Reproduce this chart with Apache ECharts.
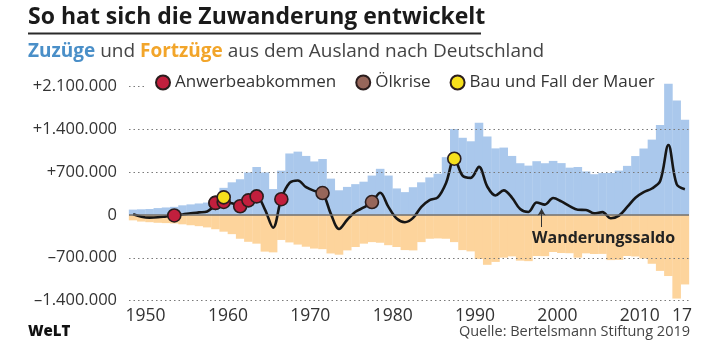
<!DOCTYPE html>
<html><head><meta charset="utf-8">
<script src="https://cdn.jsdelivr.net/npm/echarts@6/dist/echarts.min.js"></script>
<style>html,body{margin:0;padding:0;background:#fff}#c{width:720px;height:344px}</style>
</head><body><div id="c"></div>
<script>
const years = [1950,1951,1952,1953,1954,1955,1956,1957,1958,1959,1960,1961,1962,1963,1964,1965,1966,1967,1968,1969,
  1970,1971,1972,1973,1974,1975,1976,1977,1978,1979,1980,1981,1982,1983,1984,1985,1986,1987,1988,1989,
  1990,1991,1992,1993,1994,1995,1996,1997,1998,1999,2000,2001,2002,2003,2004,2005,2006,2007,2008,2009,
  2010,2011,2012,2013,2014,2015,2016,2017];
const zuzuege = [85000,90000,95000,110000,120000,130000,155000,170000,185000,200000,
  300000,440000,530000,580000,690000,780000,690000,420000,720000,1000000,
  1030000,960000,870000,910000,590000,400000,455000,500000,540000,640000,
  750000,640000,430000,370000,450000,530000,610000,670000,940000,1400000,
  1256000,1199000,1502000,1277000,1083000,1096000,960000,841000,802000,874000,
  841000,879000,843000,769000,780000,707000,662000,681000,682000,721000,
  798000,958000,1081000,1226000,1465000,2137000,1865000,1551000];
const fortzuege = [-90000,-110000,-120000,-130000,-135000,-140000,-155000,-170000,-185000,-205000,
  -235000,-275000,-315000,-390000,-440000,-470000,-600000,-612000,-410000,-450000,
  -485000,-520000,-550000,-560000,-630000,-650000,-580000,-525000,-470000,-445000,
  -455000,-495000,-525000,-575000,-580000,-445000,-390000,-385000,-390000,-445000,
  -575000,-596000,-720000,-815000,-768000,-698000,-677000,-747000,-755000,-672000,
  -674000,-606000,-623000,-626000,-698000,-628000,-639000,-637000,-738000,-734000,
  -671000,-679000,-712000,-798000,-914000,-998000,-1365000,-1135000];
const saldo = [10000,-30000,-45000,-40000,-25000,-10000,5000,25000,40000,55000,
  150000,200000,190000,150000,236000,300000,90000,-210000,265000,520000,
  560000,450000,390000,355000,20000,-230000,-80000,50000,120000,208000,
  360000,130000,-60000,-120000,-50000,130000,240000,285000,520000,920000,
  640000,603000,782000,462000,315000,398000,282000,94000,47000,202000,
  167000,273000,219000,143000,83000,79000,23000,44000,-56000,-13000,
  128000,279000,369000,429000,550000,1139000,500000,416000];
const yTicks = [-1400000,-700000,0,700000,1400000,2100000];
const yTickLabels = ['–1.400.000','–700.000','0','+700.000','+1.400.000','+2.100.000'];
const xTickYears = [1950,1960,1970,1980,1990,2000,2010,2017];
const xTickLabels = ['1950','1960','1970','1980','1990','2000','2010','17'];
const anwerbe = [[1955,-10000],[1960,195000],[1960,195000],[1961,210000],[1963,140000],[1964,236000],[1965,300000],[1968,255000]];
const oelkrise = [[1973,355000],[1979,208000]];
const mauer = [[1961,285000],[1989,915000]];
const arrowYear = 1999.6;
const arrowFrom = -199000, arrowTo = 101000;

const F = '"Open Sans", "DejaVu Sans", sans-serif';
const pair = arr => years.map((y, i) => [y, arr[i]]);
const chart = echarts.init(document.getElementById('c'));
const dotted = {type:[1.5,3], color:'#7a7a7a', width:1.2};
const yTop = yTicks[yTicks.length-1];
const gridLines = yTicks.filter(v => v !== 0 && v !== yTop).map(v => ({yAxis:v}));
gridLines.push([{coord:[years[0]-0.5, yTop]},{coord:[years[0]+1.5, yTop]}]);
gridLines.push({yAxis:0, lineStyle:{type:'solid', color:'#6e6e6e', width:1.5}});
const symStyle = c => ({color:c, borderColor:'#2b1d1d', borderWidth:1.6, opacity:1});
const labelFmt = v => { const i = xTickYears.indexOf(+v); const t = xTickLabels[i];
  return i === xTickLabels.length-1 ? '{l|'+t+'}' : '{s|'+t+'}'; };

chart.setOption({
  animation:false,
  textStyle:{fontFamily:F},
  grid:{left:129, right:31, top:86, bottom:43.3},
  xAxis:[
    {type:'category', data:years.map(String), boundaryGap:true,
     axisLine:{show:false}, axisTick:{show:false}, splitLine:{show:false},
     axisLabel:{interval:(i, v) => xTickYears.indexOf(+v) >= 0, margin:6, color:'#333', fontSize:17.5, fontFamily:F,
       formatter:labelFmt,
       rich:{s:{padding:[0,0,0,25], fontSize:17.5, color:'#333', fontFamily:F},
             l:{padding:[0,6,0,0], fontSize:17.5, color:'#333', fontFamily:F}}}},
    {type:'value', min:years[0]-0.5, max:years[years.length-1]+0.5, show:false}
  ],
  yAxis:{type:'value', min:yTicks[0], max:yTop, interval:700000,
    axisLine:{show:false}, axisTick:{show:false}, splitLine:{show:false},
    axisLabel:{margin:12, color:'#333', fontSize:16.5, fontFamily:F,
      formatter:v => yTickLabels[yTicks.indexOf(v)]}},
  legend:{left:150, top:69, itemWidth:14, itemHeight:14, itemGap:19, icon:'circle', selectedMode:false,
    textStyle:{fontSize:17, color:'#333', fontFamily:F},
    data:['Anwerbeabkommen','Ölkrise','Bau und Fall der Mauer']},
  graphic:[
    {type:'text', z:100, x:28, y:17, style:{text:'So hat sich die Zuwanderung entwickelt', font:'bold 23px '+F, fill:'#1a1a1a', verticalAlign:'middle'}},
    {type:'line', z:100, shape:{x1:28, y1:33.5, x2:481, y2:33.5}, style:{stroke:'#2a2a2a', lineWidth:2}},
    {type:'text', z:100, x:28, y:52, style:{text:'{b|Zuzüge} {g|und} {o|Fortzüge} {g|aus dem Ausland nach Deutschland}', verticalAlign:'middle',
      rich:{b:{font:'bold 19px '+F, fill:'#4a8fc8'}, o:{font:'bold 19px '+F, fill:'#f2a52a'}, g:{font:'19px '+F, fill:'#444'}}, font:'19px '+F}},
    {type:'text', z:100, x:532, y:238, style:{text:'Wanderungssaldo', font:'bold 16px '+F, fill:'#222', verticalAlign:'middle'}},
    {type:'text', z:100, x:28, y:332, style:{text:'WeLT', font:'900 15px '+F, fill:'#111', verticalAlign:'middle'}},
    {type:'text', z:100, x:690, y:332, style:{text:'Quelle: Bertelsmann Stiftung 2019', font:'14.5px '+F, fill:'#444', align:'right', verticalAlign:'middle'}}
  ],
  series:[
    {name:'Zuzüge', type:'bar', stack:'m', barWidth:'104%', clip:false, z:1, data:zuzuege, itemStyle:{color:'#aac8ec'}, silent:true},
    {name:'Fortzüge', type:'bar', stack:'m', barWidth:'104%', clip:false, z:1, data:fortzuege, itemStyle:{color:'#fdd49c'}, silent:true},
    {name:'grid', type:'line', xAxisIndex:1, z:3, data:[[years[0],0]], showSymbol:false, lineStyle:{width:0}, silent:true,
      markLine:{silent:true, symbol:['none','none'], label:{show:false}, lineStyle:dotted, data:gridLines}},
    {name:'Wanderungssaldo', type:'line', xAxisIndex:1, z:4, smooth:0.35, symbol:'none', data:pair(saldo), lineStyle:{color:'#161616', width:2.6}, silent:true,
      markLine:{silent:true, symbol:['none','arrow'], symbolSize:[6,7], label:{show:false}, lineStyle:{type:'solid', color:'#333', width:1},
        data:[[{coord:[arrowYear, arrowFrom]},{coord:[arrowYear, arrowTo]}]]}},
    {name:'Anwerbeabkommen', type:'scatter', xAxisIndex:1, z:5, symbolSize:13, data:anwerbe, itemStyle:symStyle('#c21f3d')},
    {name:'Ölkrise', type:'scatter', xAxisIndex:1, z:5, symbolSize:13, data:oelkrise, itemStyle:symStyle('#97665a')},
    {name:'Bau und Fall der Mauer', type:'scatter', xAxisIndex:1, z:6, symbolSize:13, data:mauer, itemStyle:symStyle('#f6e01c')}
  ]
});
</script></body></html>
